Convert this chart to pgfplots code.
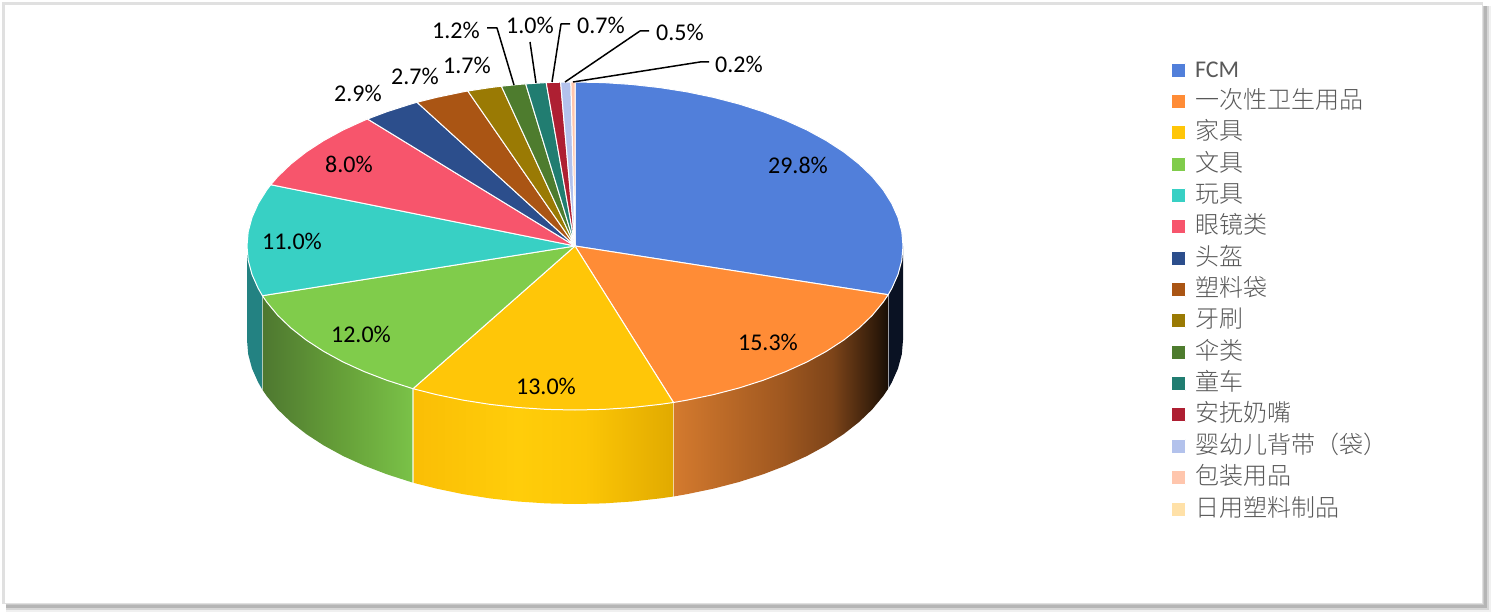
\documentclass[border=0pt]{standalone}
\usepackage{fontspec}
\setmainfont{Carlito}
\newfontfamily\cjk{Noto Sans CJK SC Light}
\usepackage{pgfplots}
\pgfplotsset{compat=1.18}

\definecolor{c1}{HTML}{517FDA}
\definecolor{c2}{HTML}{FF8C36}
\definecolor{c3}{HTML}{FFC608}
\definecolor{c4}{HTML}{80CC4B}
\definecolor{c5}{HTML}{38D0C4}
\definecolor{c6}{HTML}{F7556C}
\definecolor{c7}{HTML}{2C4E8C}
\definecolor{c8}{HTML}{AA5514}
\definecolor{c9}{HTML}{9A7A04}
\definecolor{c10}{HTML}{4E7C2E}
\definecolor{c11}{HTML}{217D71}
\definecolor{c12}{HTML}{AE1F32}
\definecolor{c13}{HTML}{B3C2EC}
\definecolor{c14}{HTML}{FFC6AD}
\definecolor{c15}{HTML}{FFE1A8}
\definecolor{legtext}{HTML}{595959}
\definecolor{sideblue}{RGB}{10,18,35}
\definecolor{sideteal}{RGB}{35,130,130}
\definecolor{so1}{RGB}{212,122,46}
\definecolor{so2}{RGB}{160,88,32}
\definecolor{so3}{RGB}{125,68,25}
\definecolor{so4}{RGB}{50,28,10}
\definecolor{so5}{RGB}{25,14,5}
\definecolor{sy1}{RGB}{250,190,5}
\definecolor{sy2}{RGB}{255,205,10}
\definecolor{sy3}{RGB}{252,198,6}
\definecolor{sy4}{RGB}{225,170,0}
\definecolor{sg1}{RGB}{78,120,48}
\definecolor{sg2}{RGB}{101,158,56}
\definecolor{sg3}{RGB}{122,194,72}

% side gradients, bbox of the side runs 25bp..75bp
\pgfdeclarehorizontalshading{sideorange}{100bp}{
  color(0bp)=(so1); color(25bp)=(so1); color(50bp)=(so2); color(62bp)=(so3);
  color(72bp)=(so4); color(75bp)=(so5); color(100bp)=(so5)}
\pgfdeclarehorizontalshading{sideyellow}{100bp}{
  color(0bp)=(sy1); color(25bp)=(sy1); color(45bp)=(sy2); color(58bp)=(sy3);
  color(75bp)=(sy4); color(100bp)=(sy4)}
\pgfdeclarehorizontalshading{sidegreen}{100bp}{
  color(0bp)=(sg1); color(25bp)=(sg1); color(50bp)=(sg2); color(75bp)=(sg3); color(100bp)=(sg3)}

\begin{document}
\begin{tikzpicture}
\begin{axis}[
  scale only axis, width=747pt, height=307.5pt,
  xmin=0, xmax=1494, ymin=0, ymax=615, y dir=reverse,
  hide axis, clip=false, no markers,
  every axis plot/.append style={line join=round, line width=0.5pt},
  legend image code/.code={\path[#1] (0pt,-3.5pt) rectangle (7pt,3.5pt);},
  legend cell align=left,
  legend style={at={(axis cs:1171,58)}, anchor=north west, draw=none, fill=none,
    inner sep=0pt, outer sep=0pt, font=\fontsize{12}{14}\selectfont, text=legtext,
    nodes={inner sep=0pt, outer sep=0pt, text height=9.5pt, text depth=2.5pt},
    /tikz/row sep=3.68pt, /tikz/column sep=4.5pt},
]
% card with its shadow
\fill[black!6] (axis cs:6,6) rectangle (axis cs:1491,612);
\fill[black!16] (axis cs:6,6) rectangle (axis cs:1489,610);
\fill[black!29] (axis cs:6,6) rectangle (axis cs:1487,608);
\fill[black!21] (axis cs:6,6) rectangle (axis cs:1484,605);
\fill[black!12] (axis cs:2,2) rectangle (axis cs:1483,604);
\fill[white] (axis cs:5,5) rectangle (axis cs:1482,603);

% sides, depth 94 px
\addplot[forget plot, draw=none, fill=sideblue] coordinates {
  (903,246) (901.8,260.3) (898,274.5) (891.8,288.4) (888.2,294.7)
  (888.2,388.7) (891.8,382.4) (898,368.5) (901.8,354.3) (903,340) (903,246)};
\addplot[forget plot, draw=none, shade, shading=sideorange] coordinates {
  (888.2,294.7) (883.2,302.1) (872.3,315.3) (859.1,328) (843.7,340.1) (826.3,351.4)
  (806.9,362) (785.8,371.6) (763.1,380.3) (739,388) (713.6,394.6) (687.2,400.1) (673.5,402.5)
  (673.5,496.5) (687.2,494.1) (713.6,488.6) (739,482) (763.1,474.3) (785.8,465.6) (806.9,456)
  (826.3,445.4) (843.7,434.1) (859.1,422) (872.3,409.3) (883.2,396.1) (888.2,388.7) (888.2,294.7)};
\addplot[forget plot, draw=none, shade, shading=sideyellow] coordinates {
  (673.5,402.5) (659.9,404.4) (632,407.5) (603.6,409.4) (575,410) (546.4,409.4) (518,407.5)
  (490.1,404.4) (462.8,400.1) (436.4,394.6) (413,388.7)
  (413,482.7) (436.4,488.6) (462.8,494.1) (490.1,498.4) (518,501.5) (546.4,503.4) (575,504)
  (603.6,503.4) (632,501.5) (659.9,498.4) (673.5,496.5) (673.5,402.5)};
\addplot[forget plot, draw=none, shade, shading=sidegreen] coordinates {
  (413,388.7) (386.9,380.3) (364.2,371.6) (343.1,362) (323.7,351.4) (306.3,340.1)
  (290.9,328) (277.7,315.3) (266.8,302.1) (262.4,295.7)
  (262.4,389.7) (266.8,396.1) (277.7,409.3) (290.9,422) (306.3,434.1) (323.7,445.4) (343.1,456)
  (364.2,465.6) (386.9,474.3) (413,482.7) (413,388.7)};
\addplot[forget plot, draw=none, fill=sideteal] coordinates {
  (262.4,295.7) (258.2,288.4) (252,274.5) (248.2,260.3) (247,246)
  (247,340) (248.2,354.3) (252,368.5) (258.2,382.4) (262.4,389.7) (262.4,295.7)};
% seams on the side
\addplot[forget plot, draw=white, opacity=0.6, line width=0.6pt] coordinates {(888.2,294.7) (888.2,388.7)};
\addplot[forget plot, draw=white, opacity=0.6, line width=0.6pt] coordinates {(673.5,402.5) (673.5,496.5)};
\addplot[forget plot, draw=white, opacity=0.6, line width=0.6pt] coordinates {(413,388.7) (413,482.7)};
\addplot[forget plot, draw=white, opacity=0.6, line width=0.6pt] coordinates {(262.4,295.7) (262.4,389.7)};

% top of the pie
\addplot[fill=c1, draw=white] coordinates {
  (575,246) (575,82) (603.6,82.6) (632,84.5) (659.9,87.6) (687.2,91.9) (713.6,97.4) (739,104)
  (763.1,111.7) (785.8,120.4) (806.9,130) (826.3,140.6) (843.7,151.9) (859.1,164) (872.3,176.7)
  (883.2,189.9) (891.8,203.6) (898,217.5) (901.8,231.7) (903,246) (901.8,260.3) (898,274.5)
  (891.8,288.4) (888.2,294.7) (575,246)};
\addplot[fill=c2, draw=white] coordinates {
  (575,246) (888.2,294.7) (883.2,302.1) (872.3,315.3) (859.1,328) (843.7,340.1) (826.3,351.4)
  (806.9,362) (785.8,371.6) (763.1,380.3) (739,388) (713.6,394.6) (687.2,400.1) (673.5,402.5) (575,246)};
\addplot[fill=c3, draw=white] coordinates {
  (575,246) (673.5,402.5) (659.9,404.4) (632,407.5) (603.6,409.4) (575,410) (546.4,409.4) (518,407.5)
  (490.1,404.4) (462.8,400.1) (436.4,394.6) (413,388.7) (575,246)};
\addplot[fill=c4, draw=white] coordinates {
  (575,246) (413,388.7) (386.9,380.3) (364.2,371.6) (343.1,362) (323.7,351.4) (306.3,340.1)
  (290.9,328) (277.7,315.3) (266.8,302.1) (262.4,295.7) (575,246)};
\addplot[fill=c5, draw=white] coordinates {
  (575,246) (262.4,295.7) (258.2,288.4) (252,274.5) (248.2,260.3) (247,246) (248.2,231.7) (252,217.5)
  (258.2,203.6) (266.8,189.9) (270.8,184.7) (575,246)};
\addplot[fill=c6, draw=white] coordinates {
  (575,246) (270.8,184.7) (277.7,176.7) (290.9,164) (306.3,151.9) (323.7,140.6) (343.1,130) (364.2,120.4)
  (367.5,119) (575,246)};
\addplot[fill=c7, draw=white] coordinates {
  (575,246) (367.5,119) (386.9,111.7) (411,104) (417,102.3) (575,246)};
\addplot[fill=c8, draw=white] coordinates {
  (575,246) (417,102.3) (436.4,97.4) (462.8,91.9) (467.8,91) (575,246)};
\addplot[fill=c9, draw=white] coordinates {
  (575,246) (467.8,91) (490.1,87.6) (501.4,86.2) (575,246)};
\addplot[fill=c10, draw=white] coordinates {
  (575,246) (501.4,86.2) (518,84.5) (525.7,83.9) (575,246)};
\addplot[fill=c11, draw=white] coordinates {
  (575,246) (525.7,83.9) (546.2,82.6) (575,246)};
\addplot[fill=c12, draw=white] coordinates {
  (575,246) (546.2,82.6) (560.6,82.2) (575,246)};
\addplot[fill=c13, draw=white] coordinates {
  (575,246) (560.6,82.2) (570.9,82) (575,246)};
\addplot[fill=c14, draw=white] coordinates {
  (575,246) (570.9,82) (575,82) (575,246)};
\addlegendimage{fill=c15, draw=white}

% leader lines
\addplot[forget plot, black, line width=0.75pt] coordinates {(487,28) (497,28) (514,85)};
\addplot[forget plot, black, line width=0.75pt] coordinates {(530,42) (536,83)};
\addplot[forget plot, black, line width=0.75pt] coordinates {(570,24) (561,24) (552,82)};
\addplot[forget plot, black, line width=0.75pt] coordinates {(649,31) (640,31) (565,82)};
\addplot[forget plot, black, line width=0.75pt] coordinates {(709,62) (700,62) (573,82)};

\legend{FCM,{\cjk 一次性卫生用品},{\cjk 家具},{\cjk 文具},{\cjk 玩具},{\cjk 眼镜类},{\cjk 头盔},
  {\cjk 塑料袋},{\cjk 牙刷},{\cjk 伞类},{\cjk 童车},{\cjk 安抚奶嘴},{\cjk 婴幼儿背带（袋）},
  {\cjk 包装用品},{\cjk 日用塑料制品}}

% data labels
\begin{scope}[every node/.style={font=\fontsize{12}{14}\selectfont, inner sep=0pt, text=black}]
\node at (axis cs:798,165.5) {29.8\%};
\node at (axis cs:768,342) {15.3\%};
\node at (axis cs:546,386.5) {13.0\%};
\node at (axis cs:361,334) {12.0\%};
\node at (axis cs:292,241) {11.0\%};
\node at (axis cs:349,164) {8.0\%};
\node at (axis cs:358,93) {2.9\%};
\node at (axis cs:415,76) {2.7\%};
\node at (axis cs:467,65) {1.7\%};
\node at (axis cs:456,30) {1.2\%};
\node at (axis cs:530,25) {1.0\%};
\node at (axis cs:601,25) {0.7\%};
\node at (axis cs:680,32) {0.5\%};
\node at (axis cs:739,64) {0.2\%};
\end{scope}
\path (axis cs:0,0) rectangle (axis cs:1494,615);
\end{axis}
\end{tikzpicture}
\end{document}
